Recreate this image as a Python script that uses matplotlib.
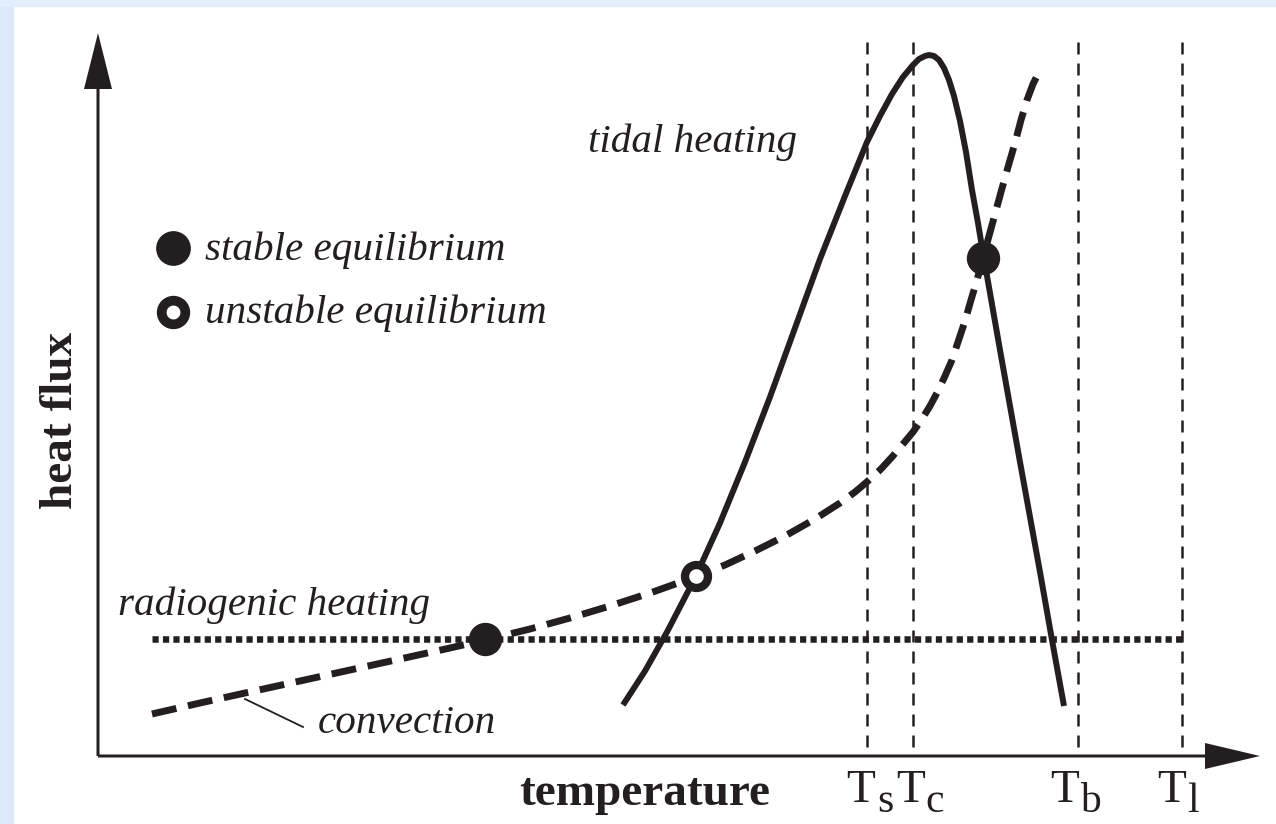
import matplotlib
matplotlib.use("Agg")
import matplotlib.pyplot as plt
from matplotlib.patches import Rectangle

# ---- data (origin at the axes crossing; units ~ pixels of the schematic) ----
# convection curve (temperature, heat flux)
conv_T = [54, 102, 147, 202, 252, 302, 352, 387, 432, 472, 512, 552, 597, 627, 657, 687,
          717, 742, 757, 770, 782, 794, 805, 815, 824, 832, 840, 847, 854, 860, 867,
          873, 879, 885, 891, 897, 903, 910, 917, 923, 929, 935, 942]
conv_Q = [42, 53, 63, 75, 86, 97, 108, 116, 127, 138, 150, 163, 179, 191, 205, 220,
          237, 253, 264, 275, 286, 299, 312, 324, 337, 350, 365, 380, 396, 414, 435,
          456, 476, 498, 520, 542, 564, 589, 613, 636, 656, 672, 686]

# tidal heating curve
tidal_T = [525, 547, 569, 597, 622, 647, 672, 697, 722, 747, 769, 782, 794, 805, 815,
           821, 827, 831, 836, 841, 846, 851, 856, 862, 868, 874, 880, 885, 902, 922,
           942, 954, 966]
tidal_Q = [51, 85, 124, 178, 233, 294, 359, 428, 497, 560, 614, 640, 662, 679, 691,
           697, 700, 701, 700, 696, 688, 676, 660, 635, 604, 566, 533, 503, 406, 294,
           184, 116, 50]

radio_T = [54, 1085]
radio_Q = [117, 117]

stable_T = [387, 885]
stable_Q = [117, 498]
unstable_T = [598]
unstable_Q = [180]

tick_T = [769, 815, 980, 1084]
tick_sub = ["s", "c", "b", "l"]
line_top = 714

axis_x_end = 1162
axis_y_end = 723

INK = "#231f20"
SERIF = "Liberation Serif"

fig = plt.figure(figsize=(12.76, 8.24), dpi=100)
fig.patch.set_facecolor("white")
# light blue frame strips
fig.patches.append(Rectangle((0, 0), 13 / 1276, 1, transform=fig.transFigure, color="#dce9fb", zorder=0))
fig.patches.append(Rectangle((0, 1 - 6 / 824), 1, 6 / 824, transform=fig.transFigure, color="#e3eefc", zorder=0))

ax = fig.add_axes([13 / 1276, 0, 1 - 13 / 1276, 1 - 6 / 824])
ax.set_xlim(-98 + 13, 1178)
ax.set_ylim(-68, 756 - 6)
ax.axis("off")

# axes with arrows
ax.arrow(0, 0, 0, axis_y_end, width=3, head_width=28, head_length=56,
         length_includes_head=True, fc=INK, ec="none", zorder=5)
ax.arrow(0, 0, axis_x_end, 0, width=3, head_width=26, head_length=55,
         length_includes_head=True, fc=INK, ec="none", zorder=5)

# vertical dashed temperature markers
for t in tick_T:
    ax.plot([t, t], [line_top, 0], color=INK, lw=1.8, ls=(0, (4.8, 3.6)), zorder=2)

# radiogenic heating (dotted)
ax.plot(radio_T, radio_Q, color=INK, lw=4.7, ls=(0, (0.95, 0.65)), zorder=3)

# convection (dashed)
ax.plot(conv_T, conv_Q, color=INK, lw=5, ls=(0, (3.6, 1.7)), zorder=3)

# tidal heating (solid)
ax.plot(tidal_T, tidal_Q, color=INK, lw=4.3, solid_joinstyle="round",
        solid_capstyle="butt", zorder=3)

# equilibria
ax.plot(stable_T, stable_Q, "o", ms=23, color=INK, mec=INK, zorder=6)
ax.plot(unstable_T, unstable_Q, "o", ms=16.5, mfc="white", mec=INK, mew=6, zorder=6)

# legend
ax.plot([75], [508], "o", ms=24, color=INK, zorder=6)
ax.plot([75], [444], "o", ms=17, mfc="white", mec=INK, mew=7, zorder=6)
ax.text(107, 496, "stable equilibrium", fontsize=29.6, family=SERIF, style="italic", color=INK)
ax.text(107, 433, "unstable equilibrium", fontsize=29.6, family=SERIF, style="italic", color=INK)

# annotations
ax.text(490, 604, "tidal heating", fontsize=29.6, family=SERIF, style="italic", color=INK)
ax.text(20, 141, "radiogenic heating", fontsize=29.6, family=SERIF, style="italic", color=INK)
ax.text(220, 23, "convection", fontsize=29.6, family=SERIF, style="italic", color=INK)
ax.plot([147, 205], [57, 29], color=INK, lw=1.3, zorder=3)

# axis labels
ax.text(547, -49, "temperature", fontsize=34, family=SERIF, weight="bold",
        ha="center", va="baseline", color=INK)
ax.text(-26, 336, "heat flux", fontsize=34, family=SERIF, weight="bold",
        ha="center", va="baseline", rotation=90, rotation_mode="anchor", color=INK)

# temperature tick labels T_s, T_c, T_b, T_l
T_dx = [8, 12, 1, 4]     # pixel offsets of the "T" right edge from its line
sub_dx = [10, 12, 2, 5]  # pixel offsets of the subscript left edge
for t, sub, dT, dS in zip(tick_T, tick_sub, T_dx, sub_dx):
    ax.annotate("T", (t, -46), xytext=(dT, 0), textcoords="offset pixels",
                ha="right", va="baseline", fontsize=34, family=SERIF, color=INK)
    ax.annotate(sub, (t, -46), xytext=(dS, -10), textcoords="offset pixels",
                ha="left", va="baseline", fontsize=30, family=SERIF, color=INK)

fig.savefig("out.png", dpi=100)
